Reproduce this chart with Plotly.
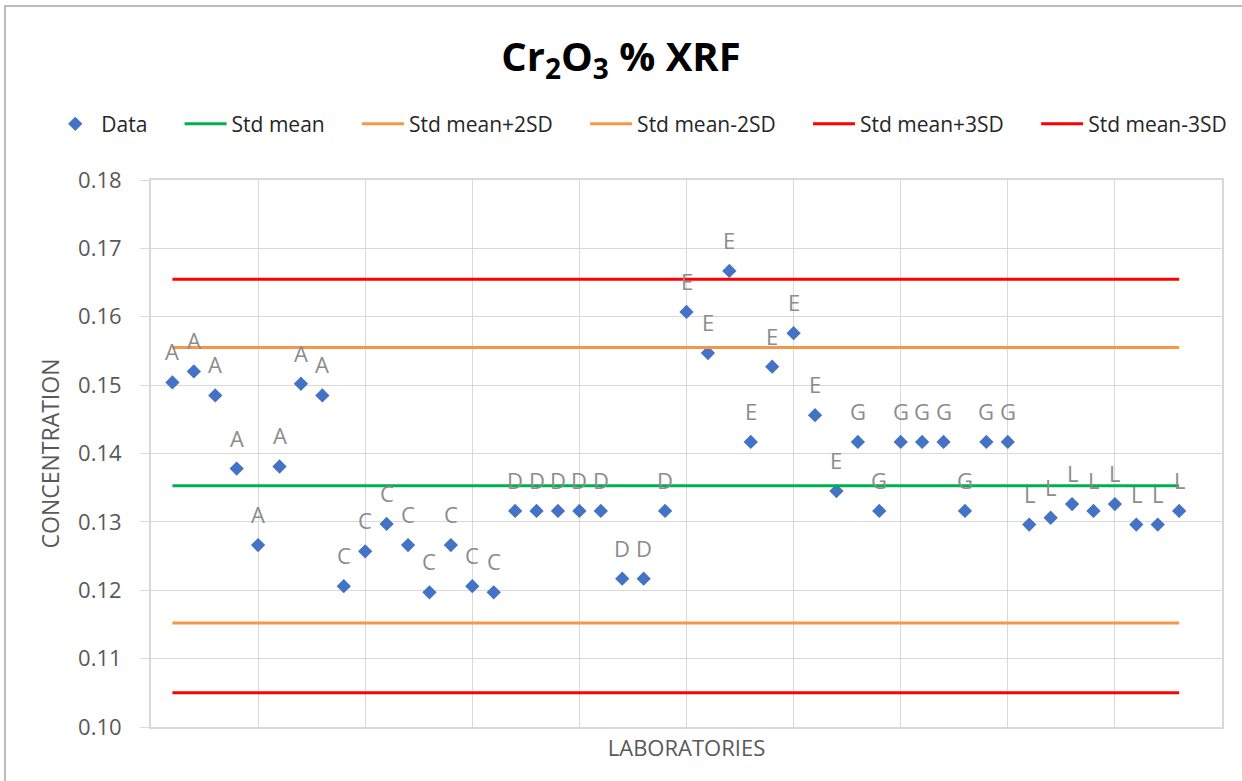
import plotly.graph_objects as go

# lab results, one per sample
lab_no = list(range(1, 49))
labs = (['A'] * 8 + ['C'] * 8 + ['D'] * 8 + ['E'] * 8 + ['G'] * 8 + ['L'] * 8)
conc = [0.1504, 0.1520, 0.1485, 0.1378, 0.1266, 0.1381, 0.1502, 0.1485,
        0.1206, 0.1257, 0.1297, 0.1266, 0.1197, 0.1266, 0.1206, 0.1197,
        0.1316, 0.1316, 0.1316, 0.1316, 0.1316, 0.1217, 0.1217, 0.1316,
        0.1607, 0.1547, 0.1667, 0.1417, 0.1527, 0.1576, 0.1456, 0.1345,
        0.1417, 0.1316, 0.1417, 0.1417, 0.1417, 0.1316, 0.1417, 0.1417,
        0.1296, 0.1306, 0.1326, 0.1316, 0.1326, 0.1296, 0.1296, 0.1316]

# control limits
std_mean = 0.1353
mean_p2sd = 0.1555
mean_m2sd = 0.1152
mean_p3sd = 0.1655
mean_m3sd = 0.1050

limit_lines = [
    ('Std mean', std_mean, '#00B050'),
    ('Std mean+2SD', mean_p2sd, '#F79646'),
    ('Std mean-2SD', mean_m2sd, '#F79646'),
    ('Std mean+3SD', mean_p3sd, '#FF0000'),
    ('Std mean-3SD', mean_m3sd, '#FF0000'),
]

FONT = 'Open Sans, Liberation Sans, sans-serif'
PAD = '\u00a0' * 5  # extra space after each legend entry, as excel spaces them

fig = go.Figure()
fig.add_trace(go.Scatter(x=lab_no, y=conc, mode='markers', name='Data' + PAD,
                         marker=dict(symbol='diamond', size=11, color='#4472C4')))

for i, (name, val, col) in enumerate(limit_lines):
    pad = PAD if i < len(limit_lines) - 1 else ''
    fig.add_trace(go.Scatter(x=[lab_no[0], lab_no[-1]], y=[val, val], mode='lines',
                             name=name + pad, line=dict(color=col, width=3)))

# data labels above each point
for x, y, lab in zip(lab_no, conc, labs):
    fig.add_annotation(x=x, y=y, text=lab, showarrow=False, yshift=31,
                       font=dict(family=FONT, size=22, color='#8c8c8c'))

# chart border like the excel chart area
fig.add_shape(type='rect', xref='paper', yref='paper', x0=-0.1363, x1=1.1, y0=-0.3, y1=1.318,
              line=dict(color='#a6a6a6', width=1.5), layer='below')

fig.update_layout(
    width=1242, height=781,
    margin=dict(l=151, r=20, t=180, b=54, autoexpand=False),
    paper_bgcolor='white', plot_bgcolor='white',
    title=dict(text='<b>Cr<sub>2</sub>O<sub>3</sub> % XRF</b>', x=0.5, xanchor='center',
               y=0.927, yanchor='middle',
               font=dict(family=FONT, size=40, color='black')),
    legend=dict(orientation='h', x=-0.095, xanchor='left', y=1.102, yanchor='middle',
                font=dict(family=FONT, size=21, color='#262626'), itemwidth=42),
    showlegend=True,
)

fig.update_xaxes(range=[0, 50], dtick=5, showticklabels=False, ticks='',
                 showgrid=True, gridcolor='#d9d9d9', gridwidth=1,
                 showline=True, linecolor='#d9d9d9', linewidth=2, mirror=True,
                 zeroline=False, automargin=False,
                 title=dict(text='LABORATORIES', standoff=13,
                            font=dict(family=FONT, size=22, color='#595959')))
fig.update_yaxes(range=[0.10, 0.18], dtick=0.01, tickformat='.2f',
                 showgrid=True, gridcolor='#d9d9d9', gridwidth=1,
                 showline=True, linecolor='#d9d9d9', linewidth=2, mirror=True,
                 ticks='outside', ticklen=9, tickcolor='#d9d9d9',
                 ticklabelstandoff=14,
                 tickfont=dict(family=FONT, size=22, color='#595959'),
                 zeroline=False, automargin=False,
                 title=dict(text='CONCENTRATION', standoff=12,
                            font=dict(family=FONT, size=23, color='#595959')))

fig.write_html('out.html', config={'displayModeBar': False},
               post_script="document.body.style.margin='0';")
